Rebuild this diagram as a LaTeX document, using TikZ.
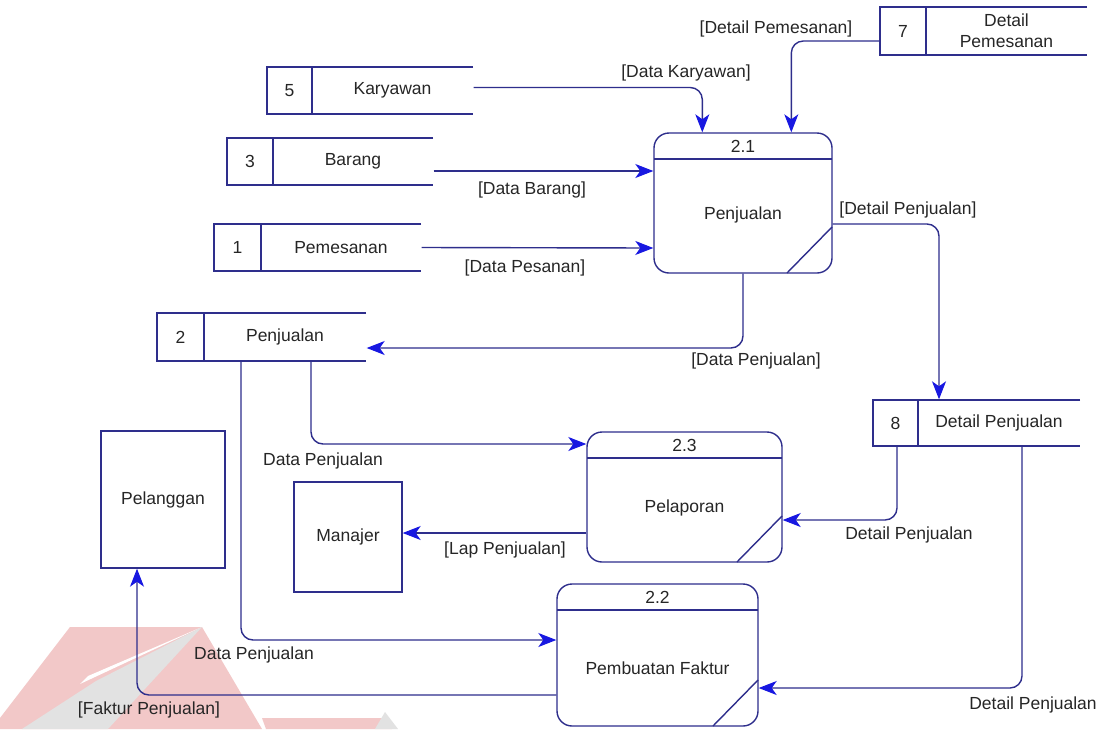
\documentclass[tikz,border=0pt]{standalone}
\usepackage{fontspec}
\setmainfont{Liberation Sans}
\usetikzlibrary{arrows.meta,calc}

\definecolor{dfdline}{RGB}{46,46,140}
\definecolor{dfdhead}{RGB}{24,24,225}
\definecolor{dfdtext}{RGB}{38,38,38}
\definecolor{wmred}{RGB}{242,200,200}
\definecolor{wmgray}{RGB}{226,226,226}

% data store: name, left x, divider x, right x, top y, bottom y, number, label
\newcommand\datastore[8]{%
  \node[inner sep=0pt, minimum width={#4-#2}, minimum height={#6-#5}] (#1) at ({(#2+#4)/2},{(#5+#6)/2}) {};
  \draw[dfdline] (#4,#5) -- (#2,#5) -- (#2,#6) -- (#4,#6) (#3,#5) -- (#3,#6);
  \node (#1n) at ({(#2+#3)/2},{(#5+#6)/2}) {#7};
  \node[align=center, inner sep=0pt] (#1t) at ({(#3+#4)/2},{(#5+#6)/2}) {#8};
}

% process: name, left x, right x, top y, bottom y, number, label, label y
\newcommand\dfdprocess[8]{%
  \node[draw=dfdline, rounded corners=15pt, inner sep=0pt,
        minimum width={#3-#2}, minimum height={#5-#4}] (#1) at ({(#2+#3)/2},{(#4+#5)/2}) {};
  \draw[dfdline] (#2,#4+26) -- (#3,#4+26);
  \draw[dfdline] (#3,#5-46) -- (#3-45,#5);
  \node (#1n) at ({(#2+#3)/2},#4+13) {#6};
  \node (#1t) at ({(#2+#3)/2},#8) {#7};
}

\begin{document}
\begin{tikzpicture}[x=1pt, y=-1pt, line width=1.4pt,
  every node/.style={font=\fontsize{17.5}{21}\selectfont, text=dfdtext},
  flow/.style={draw=dfdline, rounded corners=12pt,
    -{Stealth[length=18pt, width=14pt, inset=5pt, color=dfdhead, line width=1pt]}},
  entity/.style={draw=dfdline, inner sep=0pt},
  flowlabel/.style={inner sep=0pt}]

\useasboundingbox (0,0) rectangle (1107,729);
\fill[white] (0,0) rectangle (1107,729);

% faint logo in the lower left
\fill[wmred] (70,627) -- (202,627) -- (262,729) -- (0,729) -- (0,718) -- cycle;
\fill[white] (202,627) -- (88,676) -- (80,684) -- cycle;
\fill[wmgray] (202,627) -- (96,681) -- (22,729) -- (108,729) -- cycle;
\fill[wmred] (262,718) -- (385,718) -- (392,729) -- (266,729) -- cycle;
\fill[wmgray] (385,712) -- (398,729) -- (375,729) -- cycle;

% data stores
\datastore{s7}{880}{926}{1087}{7}{55}{7}{Detail\\Pemesanan}
\datastore{s5}{267}{312}{473}{67}{114}{5}{Karyawan}
\datastore{s3}{227}{273}{433}{138}{185}{3}{Barang}
\datastore{s1}{214}{261}{421}{224}{271}{1}{Pemesanan}
\datastore{s2}{157}{204}{366}{313}{361}{2}{Penjualan}
\datastore{s8}{873}{918}{1080}{400}{446}{8}{Detail Penjualan}

% processes
\dfdprocess{p21}{654}{832}{133}{273}{2.1}{Penjualan}{215}
\dfdprocess{p23}{587}{782}{432}{562}{2.3}{Pelaporan}{508}
\dfdprocess{p22}{557}{758}{584}{726}{2.2}{Pembuatan Faktur}{668}

% external entities
\node[entity, minimum width=124, minimum height=137] (pel) at (163,499.5) {Pelanggan};
\node[entity, minimum width=108, minimum height=110] (man) at (348,537) {Manajer};

% data flows
\draw[flow] ([yshift=3pt]s5.east) -| ([xshift=49pt]p21.north west);
\draw[flow] ([yshift=-10pt]s7.west) -| ([xshift=138pt]p21.north west);
\draw[flow] ([yshift=-9.5pt]s3.east) -- ([yshift=32pt]p21.west);
\draw[flow] (s1.east) -- ([yshift=-45pt]p21.west);
\draw[flow] (p21.south) |- ([yshift=-11pt]s2.east);
\draw[flow] ([yshift=-21pt]p21.east) -| ([xshift=-37.5pt]s8.north);
\draw[flow] ([xshift=49.5pt]s2.south) |- ([yshift=53pt]p23.west);
\draw[flow] ([xshift=-20.5pt]s2.south) |- ([yshift=15pt]p22.west);
\draw[flow] ([yshift=-40pt]p22.west) -| ([xshift=-26pt]pel.south);
\draw[flow] ([yshift=-36pt]p23.west) -- ([yshift=4pt]man.east);
\draw[flow] ([xshift=-79.5pt]s8.south) |- ([yshift=-23pt]p23.east);
\draw[flow] ([xshift=45.5pt]s8.south) |- ([yshift=-33pt]p22.east);

% flow labels
\node[flowlabel] (l1) at (686,73) {[Data Karyawan]};
\node[flowlabel] (l2) at (776,29) {[Detail Pemesanan]};
\node[flowlabel] (l3) at (532,190) {[Data Barang]};
\node[flowlabel] (l4) at (525,268) {[Data Pesanan]};
\node[flowlabel] (l5) at (908,210) {[Detail Penjualan]};
\node[flowlabel] (l6) at (756,361) {[Data Penjualan]};
\node[flowlabel] (l7) at (323,461) {Data Penjualan};
\node[flowlabel] (l8) at (909,535) {Detail Penjualan};
\node[flowlabel] (l9) at (505,550) {[Lap Penjualan]};
\node[flowlabel] (l10) at (254,655) {Data Penjualan};
\node[flowlabel] (l11) at (149,710) {[Faktur Penjualan]};
\node[flowlabel] (l12) at (1033,705) {Detail Penjualan};
\end{tikzpicture}
\end{document}
